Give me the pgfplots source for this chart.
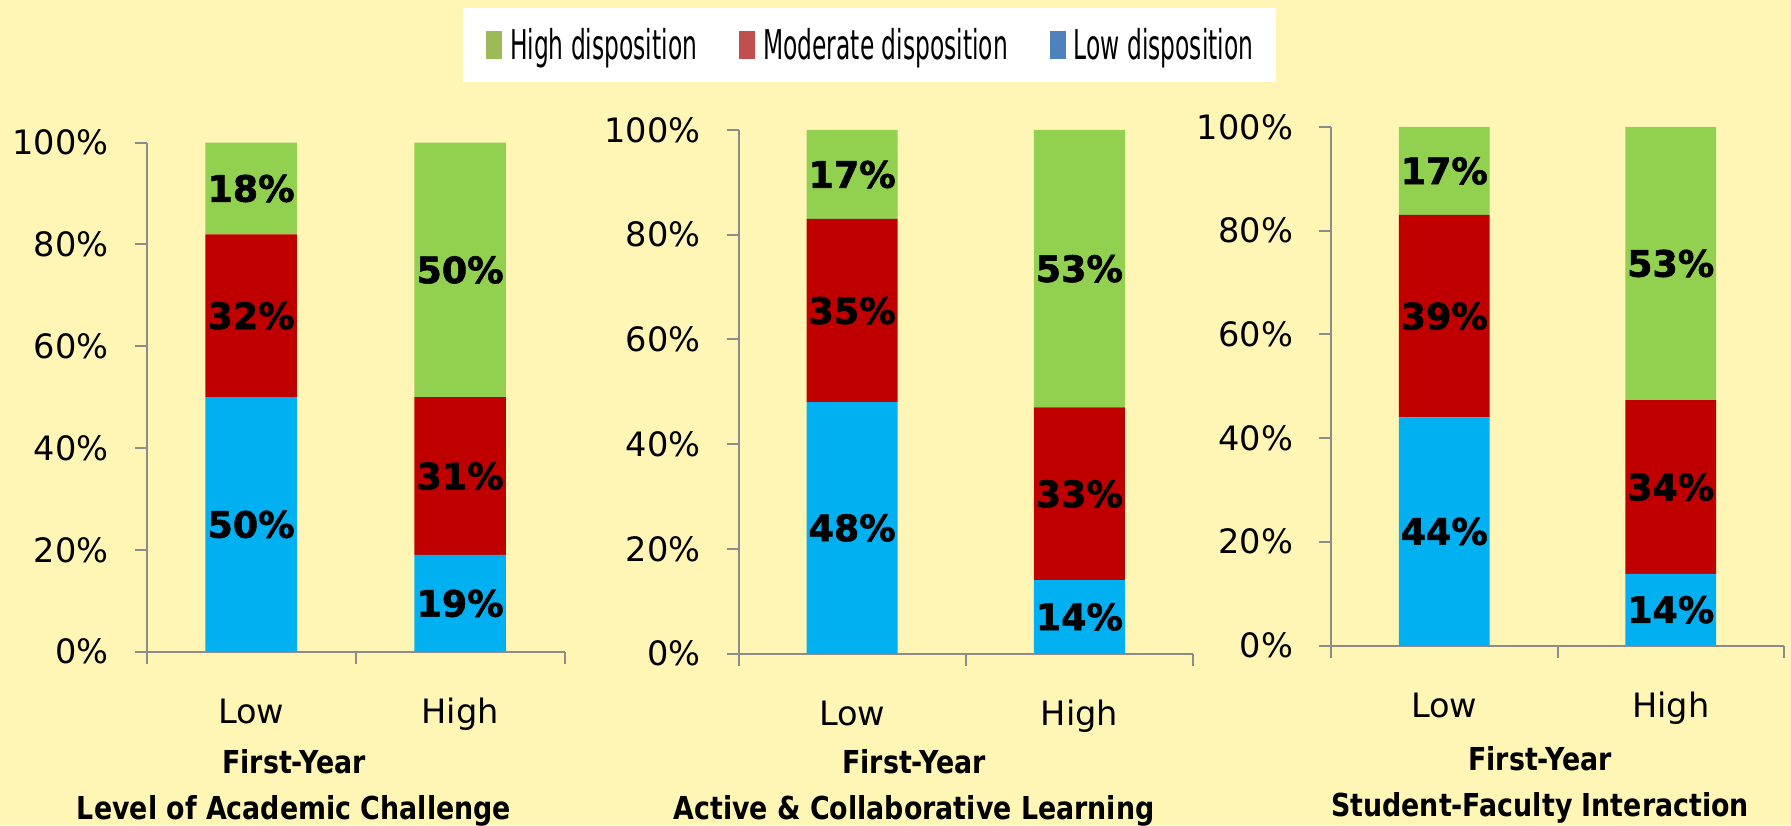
\documentclass[border=0pt]{standalone}
\usepackage{pgfplots}
\pgfplotsset{compat=1.18}
\usepackage{fontspec}
\setmainfont{DejaVu Sans}
\newfontfamily\legfont[FakeStretch=0.57]{DejaVu Sans}
\newfontfamily\titlefont[FakeStretch=0.85]{DejaVu Sans}
\newfontfamily\lblfont[BoldFeatures={FakeBold=1.5}]{DejaVu Sans}

\definecolor{bg}{RGB}{255,246,182}
\definecolor{cgreen}{HTML}{92D050}
\definecolor{cred}{HTML}{C00000}
\definecolor{cblue}{HTML}{00B0F0}
\definecolor{lgreen}{HTML}{9BBB59}
\definecolor{lred}{HTML}{C0504D}
\definecolor{lblue}{HTML}{4F81BD}
\definecolor{axgray}{HTML}{8C8C8C}

\pgfkeys{/pgf/number format/assume math mode=true}

\pgfplotsset{
  panel/.style={
    scale only axis,
    ybar stacked,
    xmin=0, xmax=2, ymin=0, ymax=100,
    enlargelimits=false,
    axis x line=bottom, axis y line=left,
    axis line style={-, draw=axgray, line width=1pt},
    tick align=outside,
    major tick length=6pt, minor tick length=6pt,
    ytick={0,20,40,60,80,100},
    yticklabels={0\%,20\%,40\%,60\%,80\%,100\%},
    xtick={0.5,1.5}, xticklabels={Low,High},
    major x tick style={draw=none},
    minor xtick={0,1,2},
    minor x tick style={draw=axgray, line width=1pt},
    major y tick style={draw=axgray, line width=1pt},
    tick label style={font=\fontsize{16.8}{20}\selectfont, text=black},
    yticklabel style={anchor=east, inner sep=0pt, xshift=-12.8pt},
    xticklabel style={anchor=north, inner sep=0pt, text height=12.8pt, text depth=4pt, yshift=-16.9pt},
    xlabel style={font=\fontsize{15.8}{23}\selectfont\titlefont\bfseries, align=center, inner sep=0pt, anchor=north},
    point meta=explicit,
    nodes near coords={\pgfmathprintnumber{\pgfplotspointmeta}\%},
    every node near coord/.append style={font=\fontsize{18.2}{20}\selectfont\lblfont\bfseries, text=black, anchor=center},
    clip=false,
  },
}

\begin{document}
\begin{tikzpicture}
\fill[bg] (0,0) rectangle (895.5pt,412.5pt);

% ---------- Panel 1 ----------
\begin{axis}[panel,
  at={(73.3pt,86.65pt)}, anchor=south west,
  width=209pt, height=254.5pt,
  bar width=0.438,
  xlabel={First-Year\\Level of Academic Challenge},
  xlabel style={at={(axis description cs:0.3526,-0.1921)}},
  legend columns=3,
  reverse legend,
  legend cell align=left,
  legend style={at={(0.756,1.2647)}, anchor=north west, draw=none, fill=white,
    font=\fontsize{20.5}{24}\selectfont\legfont,
    inner xsep=11.5pt, inner ysep=9.8pt,
    nodes={inner sep=0pt},
    /tikz/every odd column/.append style={column sep=4pt},
    /tikz/every even column/.append style={column sep=21pt}},
]
\addplot[fill=cblue, draw=none, legend image code/.code={\fill[lblue] (0pt,-7pt) rectangle (8pt,7pt);}]
  coordinates {(0.5,50) [50] (1.5,19) [19]};
\addplot[fill=cred, draw=none, legend image code/.code={\fill[lred] (0pt,-7pt) rectangle (8pt,7pt);}]
  coordinates {(0.5,32) [32] (1.5,31) [31]};
\addplot[fill=cgreen, draw=none, legend image code/.code={\fill[lgreen] (0pt,-7pt) rectangle (8pt,7pt);}]
  coordinates {(0.5,18) [18] (1.5,50) [50]};
\legend{Low disposition, Moderate disposition, High disposition}
\end{axis}

% ---------- Panel 2 ----------
\begin{axis}[panel,
  at={(369.25pt,85.75pt)}, anchor=south west,
  width=227.25pt, height=261.75pt,
  bar width=0.40,
  xlabel={First-Year\\Active \& Collaborative Learning},
  xlabel style={at={(axis description cs:0.3861,-0.1834)}},
]
\addplot[fill=cblue, draw=none] coordinates {(0.5,48) [48] (1.5,14) [14]};
\addplot[fill=cred, draw=none] coordinates {(0.5,35) [35] (1.5,33) [33]};
\addplot[fill=cgreen, draw=none] coordinates {(0.5,17) [17] (1.5,53) [53]};
\end{axis}

% ---------- Panel 3 ----------
\begin{axis}[panel,
  at={(665.5pt,89.75pt)}, anchor=south west,
  width=226.5pt, height=259.35pt,
  bar width=0.40,
  xlabel={First-Year\\Student-Faculty Interaction},
  xlabel style={at={(axis description cs:0.4614,-0.1945)}},
]
\addplot[fill=cblue, draw=none] coordinates {(0.5,44) [44] (1.5,13.8) [14]};
\addplot[fill=cred, draw=none] coordinates {(0.5,39) [39] (1.5,33.5) [34]};
\addplot[fill=cgreen, draw=none] coordinates {(0.5,17) [17] (1.5,52.7) [53]};
\end{axis}

\pgfresetboundingbox
\useasboundingbox (0,0) rectangle (895.5pt,412.5pt);
\end{tikzpicture}
\end{document}
